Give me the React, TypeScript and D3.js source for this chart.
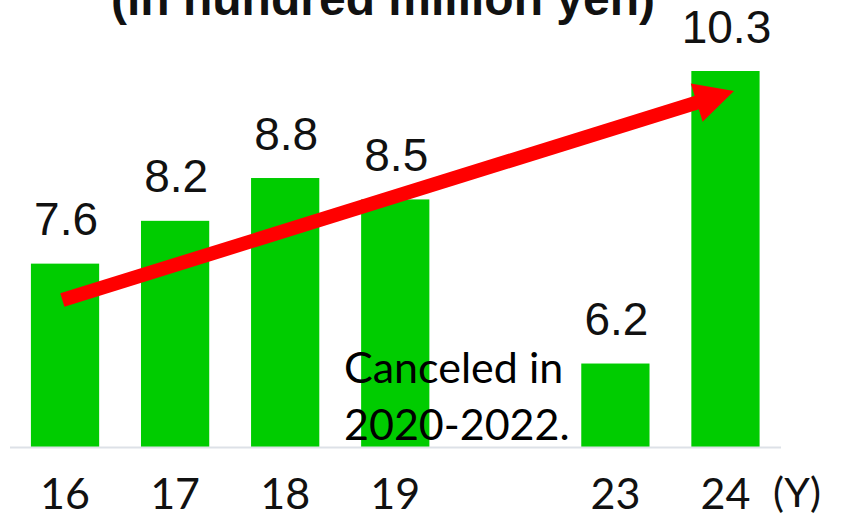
import React from 'react';
import * as d3 from 'd3';

// chart data
const slots = ['16', '17', '18', '19', '20-22', '23', '24'];
const years = ['16', '17', '18', '19', '23', '24'];
const sales = [7.6, 8.2, 8.8, 8.5, 6.2, 10.3];
const title = '(in hundred million yen)';
const unitLabel = '(Y)';
const noteLines = ['Canceled in', '2020-2022.'];
const yAxisMin = 5.03;
// trend arrow, from / to (year, value)
const arrowFrom = { year: '16', value: 7.09 };
const arrowTo = { year: '24', value: 10.02 };

const W = 841;
const H = 516;

export default function App() {
  const x = d3.scaleBand<string>()
    .domain(slots)
    .range([10, 780.5])
    .paddingInner(0.38)
    .paddingOuter(0.19);

  const y = d3.scaleLinear()
    .domain([yAxisMin, d3.max(sales) as number])
    .range([447, 71]);

  const cx = (k: string) => (x(k) as number) + x.bandwidth() / 2;

  // arrow geometry
  const sx = cx(arrowFrom.year) - 2.7;
  const sy = y(arrowFrom.value);
  const tx = cx(arrowTo.year) + 8.5;
  const ty = y(arrowTo.value);
  const len = Math.hypot(tx - sx, ty - sy);
  const ux = (tx - sx) / len;
  const uy = (ty - sy) / len;
  const nx = -uy;
  const ny = ux;
  const headLen = 39;
  const headHalf = 20;
  const bx = tx - ux * headLen;
  const by = ty - uy * headLen;
  const head = [
    [tx, ty],
    [bx + nx * headHalf, by + ny * headHalf],
    [bx - nx * headHalf, by - ny * headHalf],
  ];

  return (
    <svg width={W} height={H} style={{ position: 'absolute', left: 0, top: 0, display: 'block', background: '#fff' }}>
      <text x={383} y={14.5} textAnchor="middle" fontFamily="'Liberation Sans', Arial, sans-serif"
        fontWeight="bold" fontSize={48} fill="#111">{title}</text>

      {years.map((yr, i) => (
        <rect key={yr} x={x(yr)} y={y(sales[i])} width={x.bandwidth()} height={447 - y(sales[i])}
          fill="#00cc00" />
      ))}

      <line x1={10} x2={781} y1={447.5} y2={447.5} stroke="#dde1e7" strokeWidth={2} />

      {years.map((yr, i) => (
        <text key={'v' + yr} x={cx(yr) + 1} y={y(sales[i]) - 28.5} textAnchor="middle"
          fontFamily="'Liberation Sans', Arial, sans-serif" fontSize={46} fill="#111">
          {sales[i].toFixed(1)}
        </text>
      ))}

      {years.map((yr) => (
        <text key={'t' + yr} x={cx(yr)} y={509} textAnchor="middle"
          fontFamily="Lato, 'Open Sans', sans-serif" fontSize={43} fill="#111">{yr}</text>
      ))}
      <text x={773} y={507} fontFamily="Lato, 'Open Sans', sans-serif" fontSize={41} fill="#111">{unitLabel}</text>

      {noteLines.map((t, i) => (
        <text key={t} x={344} y={383 + i * 57} fontFamily="Lato, 'Open Sans', sans-serif"
          fontSize={43} fill="#000">{t}</text>
      ))}

      <line x1={sx} y1={sy} x2={bx + ux * 2} y2={by + uy * 2} stroke="#ff0000" strokeWidth={14} />
      <polygon points={head.map(p => p.join(',')).join(' ')} fill="#ff0000" />
    </svg>
  );
}
